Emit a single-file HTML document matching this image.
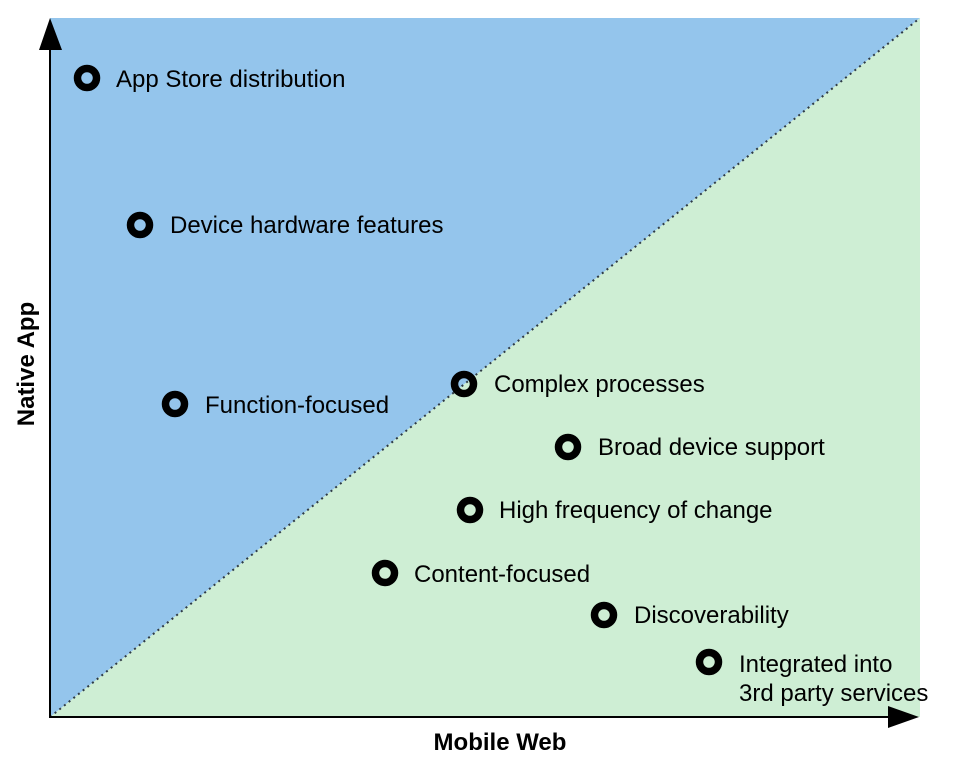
<!DOCTYPE html>
<html>
<head>
<meta charset="utf-8">
<style>
html,body{margin:0;padding:0;background:#fff;}
svg{display:block;}
text{font-family:"Liberation Sans",Arial,sans-serif;fill:#000;}
</style>
</head>
<body>
<svg width="961" height="768" viewBox="0 0 961 768" xmlns="http://www.w3.org/2000/svg">
  <!-- quadrants -->
  <polygon points="50,18 920,18 50,717" fill="#94c5ec"/>
  <polygon points="920,18 920,717 50,717" fill="#ceeed4"/>
  <!-- dotted diagonal -->
  <line x1="50" y1="717" x2="920" y2="18" stroke="#2e3a44" stroke-width="2" stroke-dasharray="2,4"/>
  <!-- axes -->
  <line x1="50" y1="717" x2="50" y2="48" stroke="#000" stroke-width="2"/>
  <polygon points="50,18 39,50 62,50" fill="#000"/>
  <line x1="49" y1="717" x2="890" y2="717" stroke="#000" stroke-width="2"/>
  <polygon points="919,717 888,706 888,728" fill="#000"/>

  <!-- points -->
  <g fill="none" stroke="#000" stroke-width="7.5">
    <circle cx="87" cy="78" r="9.5"/>
    <circle cx="140" cy="225" r="9.5"/>
    <circle cx="175" cy="404" r="9.5"/>
    <circle cx="464" cy="384" r="9.5"/>
    <circle cx="568" cy="447" r="9.5"/>
    <circle cx="470" cy="510" r="9.5"/>
    <circle cx="385" cy="573" r="9.5"/>
    <circle cx="604" cy="615" r="9.5"/>
    <circle cx="709" cy="662" r="9.5"/>
  </g>

  <g font-size="24">
    <text x="116" y="87">App Store distribution</text>
    <text x="170" y="233">Device hardware features</text>
    <text x="205" y="413">Function-focused</text>
    <text x="494" y="392">Complex processes</text>
    <text x="598" y="455">Broad device support</text>
    <text x="499" y="518">High frequency of change</text>
    <text x="414" y="582">Content-focused</text>
    <text x="634" y="623">Discoverability</text>
    <text x="739" y="672">Integrated into</text>
    <text x="739" y="701">3rd party services</text>
  </g>

  <text x="500" y="750" font-size="24" font-weight="bold" text-anchor="middle">Mobile Web</text>
  <text transform="translate(34,364) rotate(-90)" font-size="24" font-weight="bold" text-anchor="middle">Native App</text>
</svg>
</body>
</html>
